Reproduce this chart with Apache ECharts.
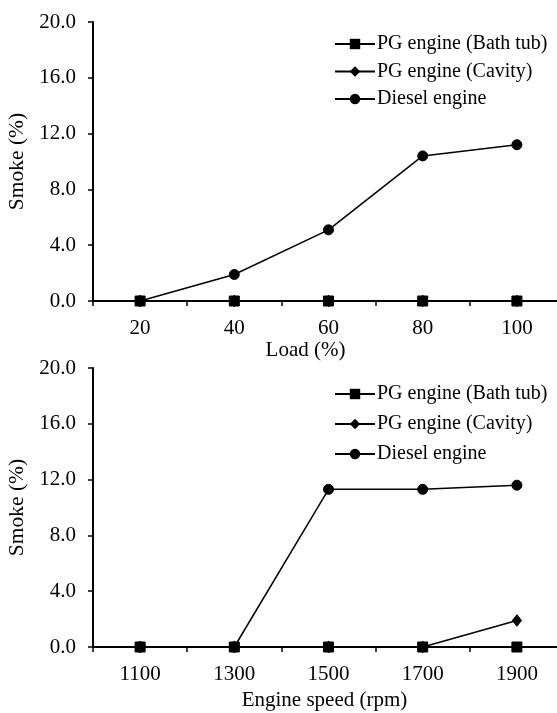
<!DOCTYPE html>
<html>
<head>
<meta charset="utf-8">
<script src="https://cdn.jsdelivr.net/npm/echarts@6/dist/echarts.min.js"></script>
<style>html,body{margin:0;padding:0;background:#fff}#c{width:557px;height:713px}</style>
</head>
<body>
<div id="c"></div>
<script>
var loadCats = ['20', '40', '60', '80', '100'];
var loadBath = [0, 0, 0, 0, 0];
var loadCavity = [0, 0, 0, 0, 0];
var loadDiesel = [0, 1.9, 5.1, 10.4, 11.2];

var speedCats = ['1100', '1300', '1500', '1700', '1900'];
var speedBath = [0, 0, 0, 0, 0];
var speedCavity = [0, 0, 0, 0, 1.9];
var speedDiesel = [0, 0, 11.3, 11.3, 11.6];

var yTicks = [0, 4, 8, 12, 16, 20];
var names = ['PG engine (Bath tub)', 'PG engine (Cavity)', 'Diesel engine'];

var FONT = 'Liberation Serif';
var chart = echarts.init(document.getElementById('c'));

function xAxis(idx, cats, name) {
  return {
    type: 'category', gridIndex: idx, data: cats, boundaryGap: true,
    name: name, nameLocation: 'middle', nameGap: idx === 0 ? 39 : 43,
    nameTextStyle: {fontFamily: FONT, fontSize: 21, color: '#000', padding: idx === 0 ? [0, 46, 0, 0] : [0, 8, 0, 0]},
    axisLine: {lineStyle: {color: '#000', width: 2}},
    axisTick: {show: true, length: 5, inside: false, alignWithLabel: false, lineStyle: {color: '#000', width: 1.5}},
    axisLabel: {fontFamily: FONT, fontSize: 21, color: '#000', margin: 17},
    splitLine: {show: false}
  };
}
function yAxis(idx) {
  return {
    type: 'value', gridIndex: idx, min: yTicks[0], max: yTicks[yTicks.length - 1], interval: yTicks[1] - yTicks[0],
    name: 'Smoke (%)', nameLocation: 'middle', nameGap: 55, nameRotate: 90,
    nameTextStyle: {fontFamily: FONT, fontSize: 21.5, color: '#000'},
    axisLine: {show: true, lineStyle: {color: '#000', width: 2}},
    axisTick: {show: true, length: 5, inside: false, lineStyle: {color: '#000', width: 1.5}},
    axisLabel: {fontFamily: FONT, fontSize: 21, color: '#000', margin: 17, formatter: function (v) { return v.toFixed(1); }},
    splitLine: {show: false}
  };
}
function series(idx, name, data, symbol, size, z) {
  return {
    type: 'line', name: name, xAxisIndex: idx, yAxisIndex: idx, data: data,
    symbol: symbol, symbolSize: size, z: z, showAllSymbol: true,
    lineStyle: {color: '#000', width: 1.5},
    itemStyle: {color: '#000', borderColor: '#000'},
    animation: false
  };
}
function legend(idx, top, gap) {
  return {
    show: true, orient: 'vertical', left: 329, top: top, itemGap: gap,
    itemWidth: 40, itemHeight: 13,
    data: names,
    textStyle: {fontFamily: FONT, fontSize: 20, color: '#000', padding: [0, 0, 0, -3]},
    selectedMode: false
  };
}

var option = {
  backgroundColor: '#fff',
  animation: false,
  grid: [
    {left: 93, top: 22, height: 279, width: 471, outerBoundsMode: 'none', containLabel: false},
    {left: 93, top: 368, height: 279, width: 471, outerBoundsMode: 'none', containLabel: false}
  ],
  xAxis: [xAxis(0, loadCats, 'Load (%)'), xAxis(1, speedCats, 'Engine speed (rpm)')],
  yAxis: [yAxis(0), yAxis(1)],
  legend: [legend(0, 29, 7.5), legend(1, 379, 10)],
  series: [
    series(0, names[0], loadBath, 'rect', 10, 5),
    series(0, names[1], loadCavity, 'diamond', [9, 11], 4),
    series(0, names[2], loadDiesel, 'circle', 10, 3),
    series(1, names[0], speedBath, 'rect', 10, 5),
    series(1, names[1], speedCavity, 'diamond', [9, 11], 4),
    series(1, names[2], speedDiesel, 'circle', 10, 3)
  ]
};
chart.setOption(option);
</script>
</body>
</html>
